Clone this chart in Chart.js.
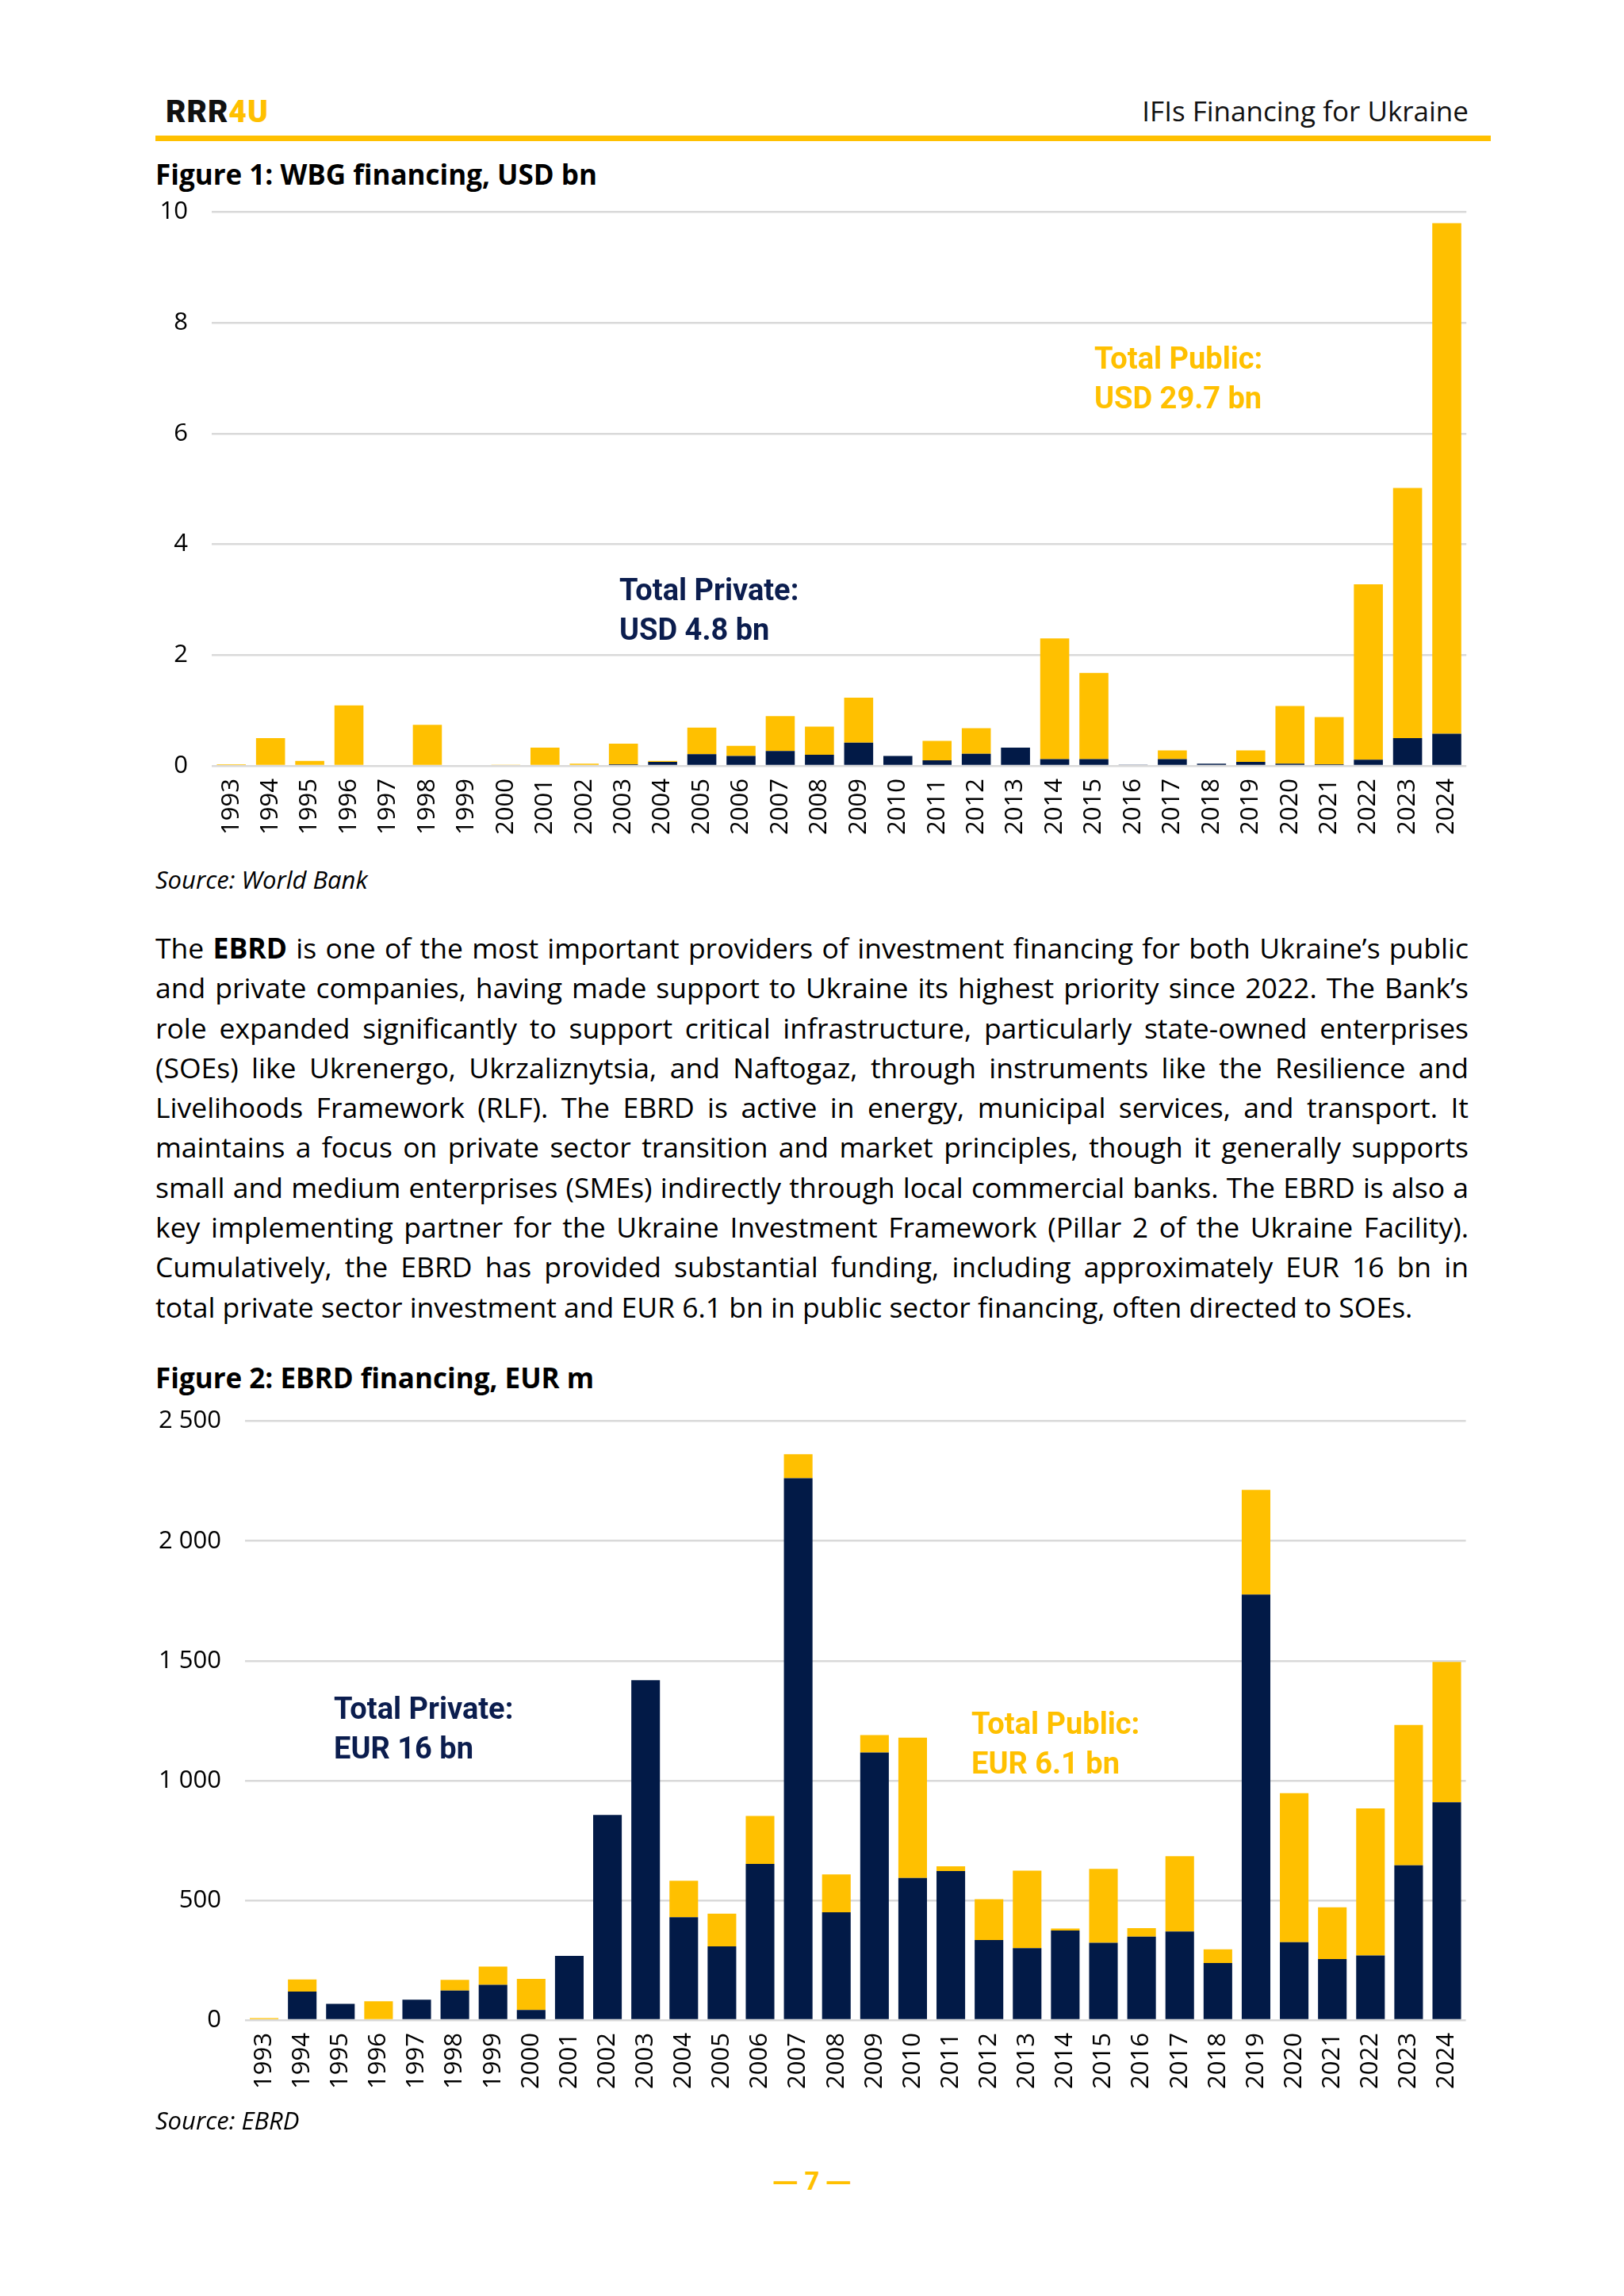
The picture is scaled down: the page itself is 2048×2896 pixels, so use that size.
<!DOCTYPE html>
<html>
<head>
<meta charset="utf-8">
<script src="https://cdn.jsdelivr.net/npm/chart.js@4.4.1/dist/chart.umd.min.js"></script>
<style>
  html, body { margin: 0; padding: 0; background: #fff; }
  body { width: 2048px; height: 2896px; position: relative; overflow: hidden; font-family: "Open Sans", sans-serif; color: #000; }
  .abs { position: absolute; white-space: nowrap; }
  .logo { left: 209px; top: 118px; font-family: Roboto, sans-serif; font-weight: 900; font-size: 39px; letter-spacing: 1px; color: #111; }
  .logo span { color: #FFC000; }
  .hdr { right: 196px; top: 116px; font-size: 35px; color: #111; }
  .rule { left: 196px; top: 171px; width: 1684px; height: 7px; background: #FFC000; }
  .title { left: 196px; font-weight: 700; font-size: 35px; }
  .src { left: 196px; font-style: italic; font-size: 31px; }
  .note { font-family: Roboto, sans-serif; font-weight: 700; font-size: 38px; line-height: 50px; }
  .navy { color: #0B1D4E; }
  .gold { color: #FFC000; }
  .para { position: absolute; left: 196px; width: 1656px; font-size: 35.5px; }
  .para div { height: 50.3px; line-height: 50.3px; text-align: justify; text-align-last: justify; white-space: nowrap; }
  .para div.last { text-align-last: left; }
  .pg { left: 0; width: 2048px; text-align: center; top: 2728px; font-weight: 700; font-size: 32px; color: #FFC000; }
  .box { position: absolute; left: 180px; width: 1690px; }
</style>
</head>
<body>
<div class="abs logo">RRR<span>4U</span></div>
<div class="abs hdr">IFIs Financing for Ukraine</div>
<div class="abs rule"></div>

<div class="abs title" style="top:196px">Figure 1: WBG financing, USD bn</div>
<div class="box" style="top:219px;height:861px"><canvas id="wbgChart"></canvas></div>
<div class="abs note navy" style="left:781px;top:719px">Total Private:<br>USD 4.8 bn</div>
<div class="abs note gold" style="left:1380px;top:427px">Total Public:<br>USD 29.7 bn</div>
<div class="abs src" style="top:1088px">Source: World Bank</div>

<div class="para" style="top:1170px">
  <div>The <b>EBRD</b> is one of the most important providers of investment financing for both Ukraine’s public</div>
  <div>and private companies, having made support to Ukraine its highest priority since 2022. The Bank’s</div>
  <div>role expanded significantly to support critical infrastructure, particularly state-owned enterprises</div>
  <div>(SOEs) like Ukrenergo, Ukrzaliznytsia, and Naftogaz, through instruments like the Resilience and</div>
  <div>Livelihoods Framework (RLF). The EBRD is active in energy, municipal services, and transport. It</div>
  <div>maintains a focus on private sector transition and market principles, though it generally supports</div>
  <div>small and medium enterprises (SMEs) indirectly through local commercial banks. The EBRD is also a</div>
  <div>key implementing partner for the Ukraine Investment Framework (Pillar 2 of the Ukraine Facility).</div>
  <div>Cumulatively, the EBRD has provided substantial funding, including approximately EUR 16 bn in</div>
  <div class="last">total private sector investment and EUR 6.1 bn in public sector financing, often directed to SOEs.</div>
</div>

<div class="abs title" style="top:1714px">Figure 2: EBRD financing, EUR m</div>
<div class="box" style="top:1744px;height:911px"><canvas id="ebrdChart"></canvas></div>
<div class="abs note navy" style="left:421px;top:2130px">Total Private:<br>EUR 16 bn</div>
<div class="abs note gold" style="left:1225px;top:2149px">Total Public:<br>EUR 6.1 bn</div>
<div class="abs src" style="top:2653px">Source: EBRD</div>

<div class="abs pg">— 7 —</div>

<script>
const years = ["1993","1994","1995","1996","1997","1998","1999","2000","2001","2002","2003","2004","2005","2006","2007","2008","2009","2010","2011","2012","2013","2014","2015","2016","2017","2018","2019","2020","2021","2022","2023","2024"];

// WBG, USD bn
const wbgPrivate = [0,0,0,0,0,0,0,0,0,0,0.03,0.07,0.21,0.18,0.27,0.20,0.42,0.18,0.10,0.22,0.33,0.12,0.12,0.02,0.12,0.04,0.07,0.04,0.03,0.11,0.50,0.58];
const wbgPublic = [0.03,0.50,0.09,1.09,0,0.74,0,0.02,0.33,0.04,0.37,0.02,0.48,0.18,0.63,0.51,0.81,0,0.35,0.46,0,2.18,1.56,0,0.16,0,0.21,1.04,0.85,3.17,4.52,9.22];
const wbgTicks = ["0","2","4","6","8","10"];

// EBRD, EUR m
const ebrdPrivate = [0,119,68,0,85,123,147,42,268,856,1419,429,308,652,2262,450,1117,593,622,334,300,374,323,348,370,238,1776,325,255,270,646,909];
const ebrdPublic = [8,51,0,79,0,45,76,130,0,0,0,153,136,200,100,158,73,586,20,171,324,8,308,36,314,57,437,622,216,614,586,586];
const ebrdTicks = ["0","500","1 000","1 500","2 000","2 500"];

const navy = "#021A47";
const gold = "#FFC000";
const tickFont = { family: "'Open Sans', sans-serif", size: 31 };

function makeChart(id, privateData, publicData, maxY, step, tickLabels, yWidth, xHeight, padTop, barPct) {
    const ctx = document.getElementById(id).getContext('2d');
    return new Chart(ctx, {
        type: 'bar',
        data: {
            labels: years,
            datasets: [{
                label: 'Private',
                backgroundColor: navy,
                data: privateData,
                barPercentage: barPct,
                categoryPercentage: 1,
            },{
                label: 'Public',
                backgroundColor: gold,
                data: publicData,
                barPercentage: barPct,
                categoryPercentage: 1,
            }]
        },
        options: {
            responsive: true,
            maintainAspectRatio: false,
            animation: false,
            layout: {
                padding: { top: padTop, right: 18, left: 0, bottom: 0 }
            },
            scales: {
                x: {
                    stacked: true,
                    afterFit: (s) => { s.height = xHeight; },
                    ticks: {
                        minRotation: 90,
                        maxRotation: 90,
                        autoSkip: false,
                        padding: 8,
                        color: "#000",
                        font: tickFont,
                    },
                    grid: { display: false },
                    border: { display: false },
                },
                y: {
                    stacked: true,
                    min: 0,
                    max: maxY,
                    afterFit: (s) => { s.width = yWidth; },
                    ticks: {
                        stepSize: step,
                        padding: 30,
                        color: "#000",
                        font: tickFont,
                        callback: (v) => tickLabels[Math.round(v / step)],
                    },
                    grid: {
                        color: "#D9D9D9",
                        lineWidth: 2.5,
                        drawTicks: false,
                    },
                    border: { display: false }
                }
            },
            plugins: {
                legend: { display: false },
                tooltip: { enabled: false }
            }
        }
    });
}

makeChart('wbgChart', wbgPrivate, wbgPublic, 10, 2, wbgTicks, 87, 114, 15, 0.74);
makeChart('ebrdChart', ebrdPrivate, ebrdPublic, 2500, 500, ebrdTicks, 129, 107, 14, 0.75);
</script>
</body>
</html>
